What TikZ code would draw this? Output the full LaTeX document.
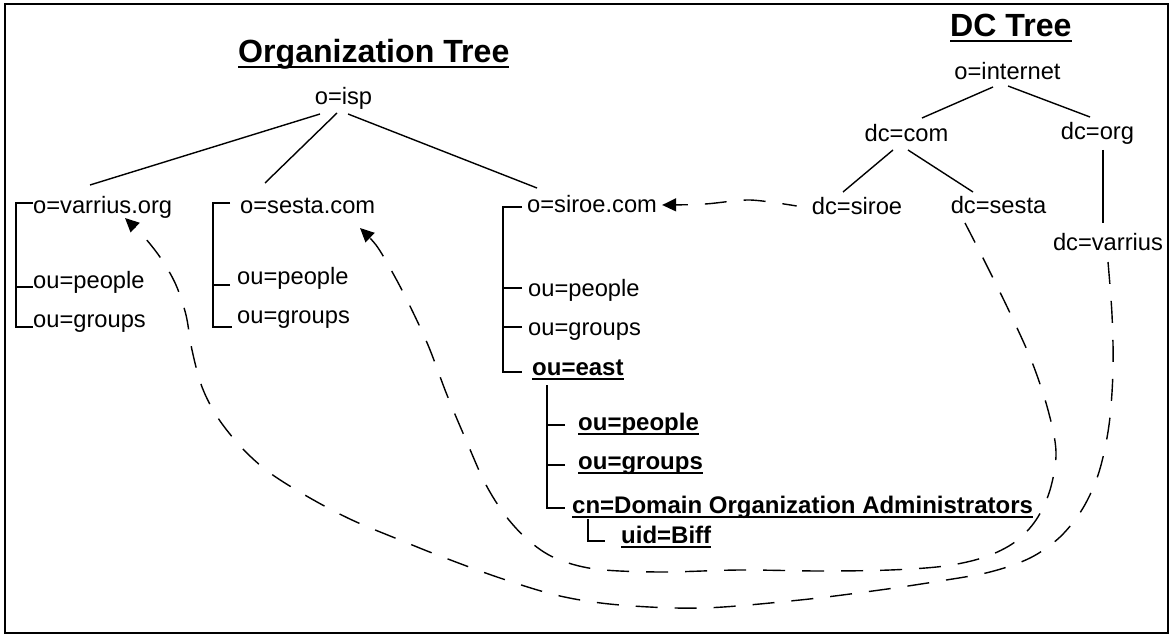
\documentclass[tikz,border=0pt]{standalone}
\usepackage{fontspec}
\setmainfont{Liberation Sans}
\usetikzlibrary{arrows.meta}
\newcommand{\ulA}[1]{\setbox0=\hbox{#1}\rlap{\rule[-4.5pt]{\wd0}{1.7pt}}\box0}
\newcommand{\ulT}[1]{\setbox0=\hbox{#1}\rlap{\rule[-5.5pt]{\wd0}{2pt}}\box0}
\tikzset{
  reg/.style={font=\fontsize{23.7}{28}\selectfont, inner sep=0pt, anchor=base west},
  bld/.style={font=\fontsize{24}{28}\selectfont\bfseries, inner sep=0pt, anchor=base west},
  ttl/.style={font=\fontsize{32.1}{36}\selectfont\bfseries, inner sep=0pt, anchor=base west},
  tree/.style={line width=1.4pt},
  dlink/.style={line width=1.4pt, dash pattern=on 22pt off 17pt, -{Triangle[length=14pt,width=13pt]}},
  dlinkr/.style={line width=1.4pt, dash pattern=on 22pt off 17pt, dash phase=10pt, {Triangle[length=14pt,width=13pt]}-},
}
\begin{document}
\begin{tikzpicture}[x=1pt,y=-1pt]
\useasboundingbox (0,0) rectangle (1174,636);
\draw[line width=1.5pt] (5,4) rectangle (1168,633);

% titles
\node[ttl] (torg) at (238,63) {\ulT{Organization Tree}};
\node[ttl] (tdc) at (950,37) {\ulT{DC Tree}};

% organization tree
\node[reg,anchor=base] (isp) at (343.5,105) {o=isp};
\node[reg] (ovar) at (33,214) {o=varrius.org};
\node[reg] (vpe) at (33,288) {ou=people};
\node[reg] (vgr) at (33,327) {ou=groups};
\node[reg] (oses) at (240,214) {o=sesta.com};
\node[reg] (spe) at (237,284) {ou=people};
\node[reg] (sgr) at (237,323) {ou=groups};
\node[reg] (osir) at (527,213) {o=siroe.com};
\node[reg] (rpe) at (528,296) {ou=people};
\node[reg] (rgr) at (528,335) {ou=groups};
\node[bld] (reast) at (532,375) {\ulA{ou=east}};
\node[bld] (bpe) at (578,430) {\ulA{ou=people}};
\node[bld] (bgr) at (578,469) {\ulA{ou=groups}};
\node[bld] (cn) at (572,513) {\ulA{cn=Domain Organization Administrators}};
\node[bld] (uid) at (621,543) {\ulA{uid=Biff}};

% DC tree
\node[reg,anchor=base] (inet) at (1007.5,80) {o=internet};
\node[reg,anchor=base] (dcom) at (906.5,142) {dc=com};
\node[reg,anchor=base] (dorg) at (1097.5,140) {dc=org};
\node[reg,anchor=base] (dsir) at (857,215) {dc=siroe};
\node[reg,anchor=base] (dses) at (998.5,214) {dc=sesta};
\node[reg,anchor=base] (dvar) at (1108,251) {dc=varrius};

% tree lines
\draw[tree] ([xshift=-23.5pt,yshift=-9pt]isp.base) -- ([xshift=57pt,yshift=29pt]ovar.base west);
\draw[tree] ([xshift=-6.5pt,yshift=-8pt]isp.base) -- ([xshift=25pt,yshift=31pt]oses.base west);
\draw[tree] ([xshift=4.5pt,yshift=-9pt]isp.base) -- ([xshift=10pt,yshift=25pt]osir.base west);
\draw[tree] ([xshift=-14.5pt,yshift=-7pt]inet.base) -- ([xshift=15.5pt,yshift=24pt]dcom.base);
\draw[tree] ([xshift=0.5pt,yshift=-6pt]inet.base) -- ([xshift=-7.5pt,yshift=23pt]dorg.base);
\draw[tree] ([xshift=-13.5pt,yshift=-8pt]dcom.base) -- ([xshift=-14pt,yshift=23pt]dsir.base);
\draw[tree] ([xshift=1.5pt,yshift=-8pt]dcom.base) -- ([xshift=-25.5pt,yshift=22pt]dses.base);
\draw[tree] ([xshift=5.5pt,yshift=-10pt]dorg.base) -- ([xshift=-5pt,yshift=28pt]dvar.base);

% brackets
\draw[tree] ([yshift=11pt]ovar.base west) -- ++(-17,0) |- (vgr.base west);
\draw[tree] ([yshift=1pt]vpe.base west) -- ++(-17,0);
\draw[tree] ([xshift=-10pt,yshift=11pt]oses.base west) -- ++(-17,0) |- ([xshift=-5pt,yshift=-4pt]sgr.base west);
\draw[tree] ([xshift=-7pt,yshift=-1pt]spe.base west) -- ++(-17,0);
\draw[tree] ([xshift=-5pt,yshift=6pt]osir.base west) -- ++(-19,0) |- ([xshift=-10pt,yshift=3pt]reast.base west);
\draw[tree] ([xshift=-6pt,yshift=8pt]rpe.base west) -- ++(-19,0);
\draw[tree] ([xshift=-6pt,yshift=8pt]rgr.base west) -- ++(-19,0);
\draw[tree] ([xshift=15pt,yshift=-10pt]reast.base west) |- ([xshift=-7pt,yshift=5pt]cn.base west);
\draw[tree] ([xshift=-13pt,yshift=5pt]bpe.base west) -- ++(-18,0);
\draw[tree] ([xshift=-13pt,yshift=4pt]bgr.base west) -- ++(-18,0);
\draw[tree] ([xshift=16pt,yshift=-6pt]cn.base west) |- ([xshift=-16pt,yshift=2pt]uid.base west);

% dashed links
\coordinate (r0) at ([xshift=5pt,yshift=8pt]osir.base east);
\coordinate (r1) at ([xshift=-15pt,yshift=9pt]dsir.base west);
\draw[dlinkr] plot[smooth] coordinates {(r0) (705,204) (750,200) (r1)};

\coordinate (s0) at ([xshift=-33.5pt,yshift=-9pt]dses.base);
\coordinate (s1) at ([xshift=120pt,yshift=-14pt]oses.base west);
\draw[dlink] plot[smooth, tension=0.55] coordinates {(s0) (987,266) (1010,313) (1032,362) (1048,410) (1056,452) (1050,490) (1036,520) (1015,542) (985,557) (945,566) (890,570) (820,571) (740,570) (660,572) (595,569) (555,558) (528,540) (505,515) (485,483) (466,440) (447,395) (428,345) (407,300) (390,268) (376,245) (s1)};

\coordinate (v0) at ([yshift=-11pt]dvar.base);
\coordinate (v1) at ([xshift=92pt,yshift=-4pt]ovar.base west);
\draw[dlink] plot[smooth, tension=0.55] coordinates {(v0) (1112,315) (1113,370) (1109,425) (1099,472) (1083,508) (1060,537) (1030,558) (990,572) (940,581) (880,590) (800,600) (703,608) (620,605) (560,596) (500,578) (440,556) (400,540) (352,520) (310,498) (270,473) (242,448) (218,418) (202,387) (192,350) (186,315) (176,285) (162,260) (145,238) (v1)};
\end{tikzpicture}
\end{document}
